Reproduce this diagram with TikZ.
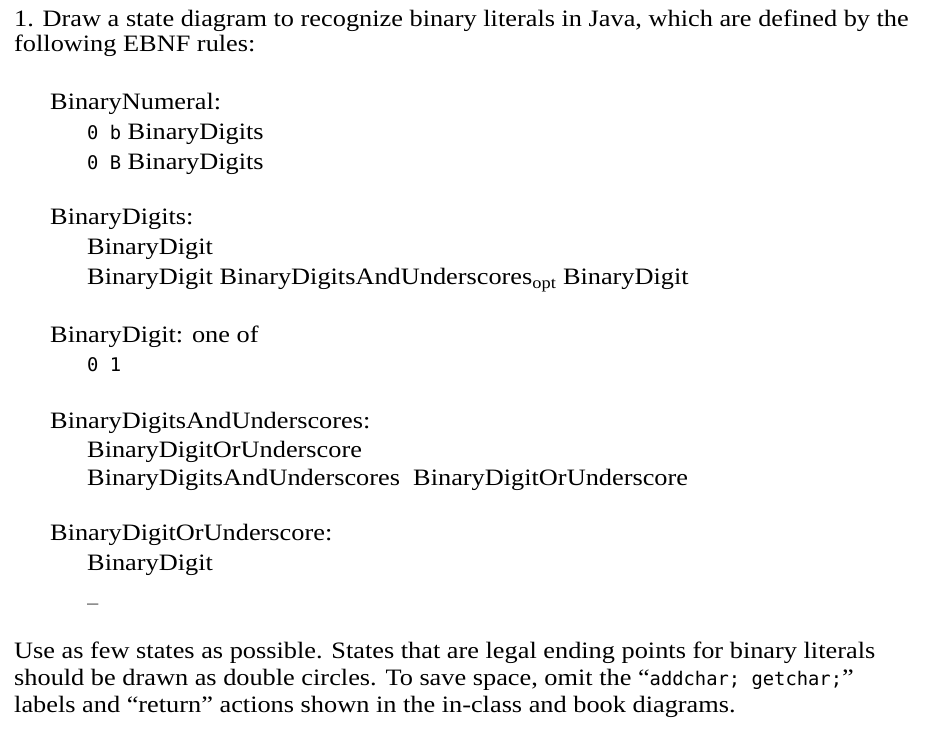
\documentclass[tikz,border=0pt]{standalone}
\usepackage{fontspec}
\setmainfont{Liberation Serif}[FakeStretch=1.12]
\setmonofont{DejaVu Sans Mono}[Scale=0.8]
\begin{document}
\begin{tikzpicture}[x=1pt,y=1pt,
  txt/.style={anchor=base west,inner sep=0pt,font=\fontsize{23.5}{25}\selectfont}]
\useasboundingbox (0,0) rectangle (929,732);
\node[txt] (l1) at (14,705) {1. Draw a state diagram to recognize binary literals in Java, which are defined by the};
\node[txt] (l2) at (14,680) {following EBNF rules:};
\node[txt] (a0) at (50,622) {BinaryNumeral:};
\node[txt] (a1) at (87,592) {\texttt{0 b} BinaryDigits};
\node[txt] (a2) at (87,562) {\texttt{0 B} BinaryDigits};
\node[txt] (b0) at (50,507) {BinaryDigits:};
\node[txt] (b1) at (87,477) {BinaryDigit};
\node[txt] (b2) at (87,447) {BinaryDigit BinaryDigitsAndUnderscores\textsubscript{opt} BinaryDigit};
\node[txt] (c0) at (50,389) {BinaryDigit: one of};
\node[txt] (c1) at (87,360) {\texttt{0 1}};
\node[txt] (d0) at (50,304) {BinaryDigitsAndUnderscores:};
\node[txt] (d1) at (87,275) {BinaryDigitOrUnderscore};
\node[txt] (d2) at (87,247) {BinaryDigitsAndUnderscores\ \ BinaryDigitOrUnderscore};
\node[txt] (e0) at (50,192) {BinaryDigitOrUnderscore:};
\node[txt] (e1) at (87,162) {BinaryDigit};
\node[txt] (e2) at (87,132) {\texttt{\_}};
\node[txt] (f1) at (14,74) {Use as few states as possible. States that are legal ending points for binary literals};
\node[txt] (f2) at (14,47) {should be drawn as double circles. To save space, omit the ``\texttt{addchar; getchar;}''};
\node[txt] (f3) at (14,20) {labels and ``return'' actions shown in the in-class and book diagrams.};
\end{tikzpicture}
\end{document}
